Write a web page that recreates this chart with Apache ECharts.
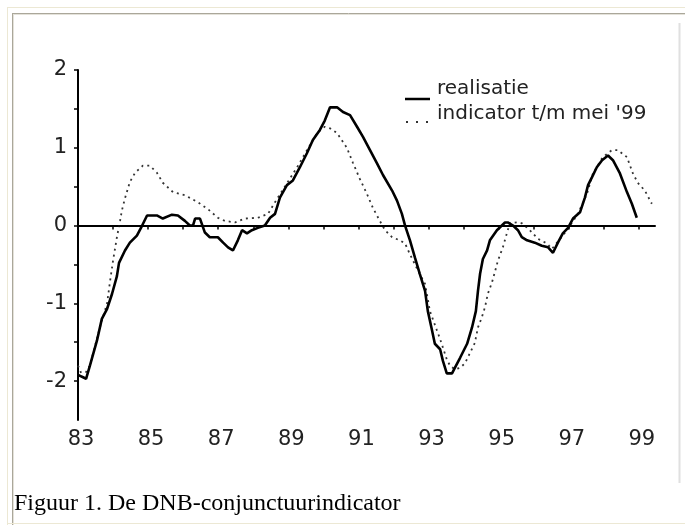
<!DOCTYPE html>
<html><head><meta charset="utf-8">
<script src="https://cdn.jsdelivr.net/npm/echarts@6/dist/echarts.min.js"></script>
<style>html,body{margin:0;padding:0;background:#fff;}#c{width:685px;height:525px;}</style>
</head><body><div id="c"></div>
<script>
// Data (years as decimal, e.g. 90.5 = mid-1990)
const realYears = [83.00,83.23,83.34,83.54,83.68,83.83,83.97,84.11,84.17,84.34,84.48,84.68,84.83,84.97,85.25,85.42,85.68,85.85,86.05,86.19,86.28,86.34,86.48,86.62,86.76,86.99,87.14,87.28,87.42,87.56,87.68,87.82,87.96,88.13,88.33,88.48,88.62,88.76,88.96,89.13,89.33,89.53,89.70,89.90,90.04,90.19,90.39,90.56,90.76,90.96,91.13,91.33,91.53,91.70,91.96,92.10,92.24,92.33,92.47,92.61,92.75,92.90,92.98,93.10,93.18,93.33,93.41,93.52,93.67,93.75,93.90,94.10,94.24,94.35,94.41,94.47,94.55,94.67,94.75,94.95,95.18,95.26,95.41,95.55,95.66,95.81,96.03,96.23,96.41,96.55,96.69,96.83,96.98,97.12,97.32,97.46,97.55,97.66,97.80,97.95,98.12,98.26,98.46,98.66,98.80,98.94];
const realValues = [-1.92,-1.97,-1.80,-1.48,-1.20,-1.07,-0.88,-0.65,-0.48,-0.32,-0.22,-0.13,0.00,0.13,0.13,0.09,0.14,0.13,0.06,0.00,0.00,0.09,0.09,-0.09,-0.15,-0.15,-0.22,-0.28,-0.32,-0.19,-0.06,-0.10,-0.06,-0.03,0.00,0.10,0.15,0.36,0.52,0.58,0.75,0.93,1.10,1.23,1.35,1.52,1.52,1.46,1.42,1.27,1.14,0.97,0.80,0.65,0.45,0.32,0.15,0.00,-0.19,-0.41,-0.62,-0.84,-1.10,-1.35,-1.52,-1.59,-1.74,-1.90,-1.90,-1.83,-1.70,-1.52,-1.31,-1.10,-0.84,-0.62,-0.43,-0.32,-0.19,-0.06,0.04,0.04,0.00,-0.06,-0.15,-0.19,-0.22,-0.26,-0.28,-0.35,-0.22,-0.10,-0.03,0.09,0.17,0.36,0.52,0.62,0.75,0.84,0.90,0.84,0.67,0.43,0.28,0.10];
const indYears = [83.00,83.14,83.34,83.63,83.83,83.91,84.00,84.11,84.20,84.25,84.34,84.48,84.63,84.85,85.05,85.25,85.42,85.71,86.05,86.42,86.71,86.99,87.19,87.48,87.76,88.13,88.42,88.62,89.25,89.82,90.04,90.19,90.39,90.67,90.84,91.04,91.24,91.41,91.61,91.76,91.96,92.18,92.33,92.47,92.70,92.90,93.04,93.24,93.33,93.52,93.61,93.75,93.90,94.04,94.18,94.32,94.41,94.52,94.61,94.69,94.81,94.89,94.98,95.12,95.24,95.32,95.52,95.66,95.89,96.12,96.38,96.52,96.95,97.26,97.52,97.69,97.97,98.23,98.40,98.66,98.83,98.97,99.17,99.37];
const indValues = [-1.80,-1.95,-1.80,-1.30,-1.00,-0.73,-0.45,-0.15,0.06,0.19,0.35,0.56,0.68,0.77,0.77,0.68,0.55,0.43,0.39,0.30,0.21,0.10,0.06,0.04,0.09,0.10,0.15,0.30,0.75,1.19,1.27,1.25,1.19,1.00,0.81,0.60,0.41,0.23,0.06,-0.06,-0.15,-0.19,-0.23,-0.37,-0.58,-0.75,-1.10,-1.35,-1.46,-1.72,-1.80,-1.85,-1.83,-1.77,-1.64,-1.51,-1.31,-1.18,-1.05,-0.88,-0.73,-0.60,-0.45,-0.28,-0.09,0.03,0.04,0.03,-0.06,-0.17,-0.23,-0.30,-0.06,0.15,0.41,0.67,0.88,0.97,0.97,0.88,0.67,0.55,0.45,0.28];
const xTickValues = [83,84,85,86,87,88,89,90,91,92,93,94,95,96,97,98,99];
const xLabelValues = [83,85,87,89,91,93,95,97,99];
const yTickValues = [-2,-1.5,-1,-0.5,0,0.5,1,1.5,2];
const yLabelValues = [-2,-1,0,1,2];
const seriesNames = ['realisatie', "indicator t/m mei '99"];
const captionText = 'Figuur 1. De DNB-conjunctuurindicator';

const zip = (xs, ys) => xs.map((x, i) => [x, ys[i]]);
const chart = echarts.init(document.getElementById('c'), null, {renderer: 'canvas'});
const labelFont = {fontFamily: 'DejaVu Sans', fontSize: 21, color: '#222'};

chart.setOption({
  animation: false,
  backgroundColor: '#fff',
  grid: {left: 78, right: 30, top: 70, bottom: 105},
  xAxis: {
    type: 'value', min: 83, max: 99.46,
    axisLine: {show: true, lineStyle: {color: '#000', width: 2}},
    axisTick: {show: true, length: 4, customValues: xTickValues, lineStyle: {color: '#000', width: 1.5}},
    axisLabel: Object.assign({margin: 9, customValues: xLabelValues, padding: [0,0,0,6], formatter: v => String(v)}, labelFont),
    splitLine: {show: false}
  },
  yAxis: {
    type: 'value', min: -2.5, max: 2,
    axisLine: {show: true, lineStyle: {color: '#000', width: 2}},
    axisTick: {show: true, length: 4, customValues: yTickValues, lineStyle: {color: '#000', width: 1.5}},
    axisLabel: Object.assign({margin: 11, customValues: yLabelValues, padding: [0,0,6,0], formatter: v => String(v)}, labelFont),
    splitLine: {show: false}
  },
  series: [
    {
      name: seriesNames[1], type: 'line', showSymbol: false, z: 2,
      data: zip(indYears, indValues),
      lineStyle: {color: '#333', width: 1.8, type: [2, 4]}
    },
    {
      name: seriesNames[0], type: 'line', showSymbol: false, z: 3,
      data: zip(realYears, realValues),
      lineStyle: {color: '#000', width: 2.6},
      markLine: {
        silent: true, symbol: 'none', label: {show: false},
        lineStyle: {color: '#000', width: 1.6, type: 'solid'},
        data: [{yAxis: 0}]
      }
    }
  ],
  graphic: [
    {type: 'line', shape: {x1: 7, y1: 7.5, x2: 685, y2: 7.5}, style: {stroke: '#ece8d4', lineWidth: 1}, silent: true},
    {type: 'line', shape: {x1: 7.5, y1: 7, x2: 7.5, y2: 525}, style: {stroke: '#ece8d4', lineWidth: 1}, silent: true},
    {type: 'line', shape: {x1: 12, y1: 13.5, x2: 685, y2: 13.5}, style: {stroke: '#aaa79a', lineWidth: 1}, silent: true},
    {type: 'line', shape: {x1: 12.5, y1: 13, x2: 12.5, y2: 525}, style: {stroke: '#aaa79a', lineWidth: 1}, silent: true},
    {type: 'line', shape: {x1: 13, y1: 14.5, x2: 685, y2: 14.5}, style: {stroke: '#e4e2da', lineWidth: 1}, silent: true},
    {type: 'line', shape: {x1: 13.5, y1: 14, x2: 13.5, y2: 525}, style: {stroke: '#e4e2da', lineWidth: 1}, silent: true},
    {type: 'line', shape: {x1: 679.5, y1: 23, x2: 679.5, y2: 483}, style: {stroke: '#e0e0e0', lineWidth: 2}, silent: true},
    {type: 'line', shape: {x1: 7, y1: 523.5, x2: 685, y2: 523.5}, style: {stroke: '#ece8d4', lineWidth: 1}, silent: true},
    // legend
    {type: 'line', shape: {x1: 405, y1: 99, x2: 430, y2: 99}, style: {stroke: '#000', lineWidth: 2.5}, silent: true},
    {type: 'line', shape: {x1: 406, y1: 122, x2: 431, y2: 122}, style: {stroke: '#333', lineWidth: 2, lineDash: [2, 8]}, silent: true},
    {type: 'text', left: 437, top: 79, style: {text: seriesNames[0], fontFamily: 'DejaVu Sans', fontSize: 20, fill: '#222'}, silent: true},
    {type: 'text', left: 437, top: 104, style: {text: seriesNames[1], fontFamily: 'DejaVu Sans', fontSize: 20, fill: '#222'}, silent: true},
    // caption
    {type: 'text', left: 14, top: 492, style: {text: captionText, fontFamily: 'Liberation Serif', fontSize: 24, fill: '#000'}, silent: true}
  ]
});
</script>
</body></html>
